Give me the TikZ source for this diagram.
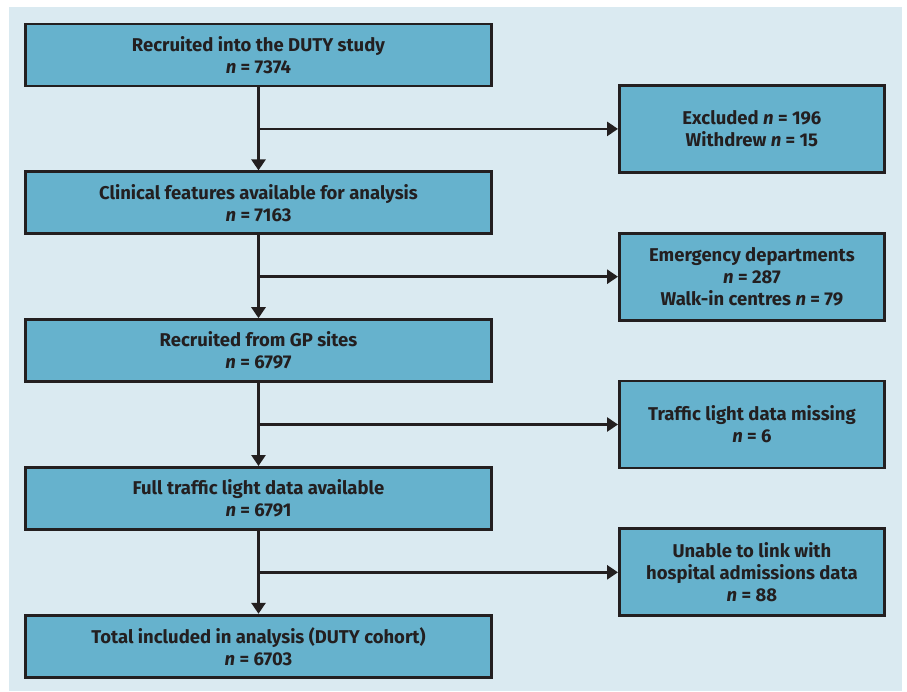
\documentclass[tikz,border=0pt]{standalone}
\usepackage{fontspec}
\setmainfont{Fira Sans}
\usetikzlibrary{positioning,arrows.meta,calc}
\definecolor{boxblue}{HTML}{66B2CD}
\definecolor{paleblue}{HTML}{DAEAF1}
\definecolor{inkdark}{HTML}{231F20}

\begin{document}
\begin{tikzpicture}[x=1pt,y=1pt,
		stagebox/.style={draw=inkdark, fill=boxblue, line width=2.8pt, rectangle, minimum width=466pt, minimum height=62pt, align=center, text=inkdark, font=\bfseries\fontsize{18.5}{22}\selectfont},
		sidebox/.style={stagebox, minimum width=265pt, minimum height=87pt},
		flow/.style={draw=inkdark, line width=2.8pt, -{Triangle[width=14pt,length=11pt]}},
		branch/.style={draw=inkdark, line width=2.8pt}]
					\useasboundingbox (0,0) rectangle (907,-691);
					\fill[paleblue] (9,-7) rectangle (902,-691);
					
					\node[stagebox] (a) at (258.5,-55) {Recruited into the DUTY study\\ \textit{n} = 7374};
					\node[stagebox, below = 83pt of a] (b) {Clinical features available for analysis\\ \textit{n} = 7163};
					\node[stagebox, below = 83pt of b] (c) {Recruited from GP sites\\ \textit{n} = 6797};
					\node[stagebox, below = 83pt of c] (d) {Full traffic light data available\\ \textit{n} = 6791};
					\node[stagebox, below = 83pt of d] (e) {Total included in analysis (DUTY cohort)\\ \textit{n} = 6703};
					
					\coordinate (j1) at ($(a.south)!0.5!(b.north)$);
					\coordinate (j2) at ($(b.south)!0.5!(c.north)$);
					\coordinate (j3) at ($(c.south)!0.5!(d.north)$);
					\coordinate (j4) at ($(d.south)!0.5!(e.north)$);
					
					\node[sidebox, right = 359.5pt of j1] (x1) {Excluded \textit{n} = 196\\ Withdrew \textit{n} = 15};
					\node[sidebox, right = 359.5pt of j2] (x2) {Emergency departments\\ \textit{n} = 287\\ Walk-in centres \textit{n} = 79};
					\node[sidebox, right = 359.5pt of j3] (x3) {Traffic light data missing\\ \textit{n} = 6};
					\node[sidebox, right = 359.5pt of j4] (x4) {Unable to link with\\ hospital admissions data\\ \textit{n} = 88};
					
					\draw[flow] (a) -- (b);
					\draw[flow] (b) -- (c);
					\draw[flow] (c) -- (d);
					\draw[flow] (d) -- (e);
					\draw[flow] (j1) -- (x1);
					\draw[flow] (j2) -- (x2);
					\draw[flow] (j3) -- (x3);
					\draw[flow] (j4) -- (x4);
				\end{tikzpicture}
\end{document}
